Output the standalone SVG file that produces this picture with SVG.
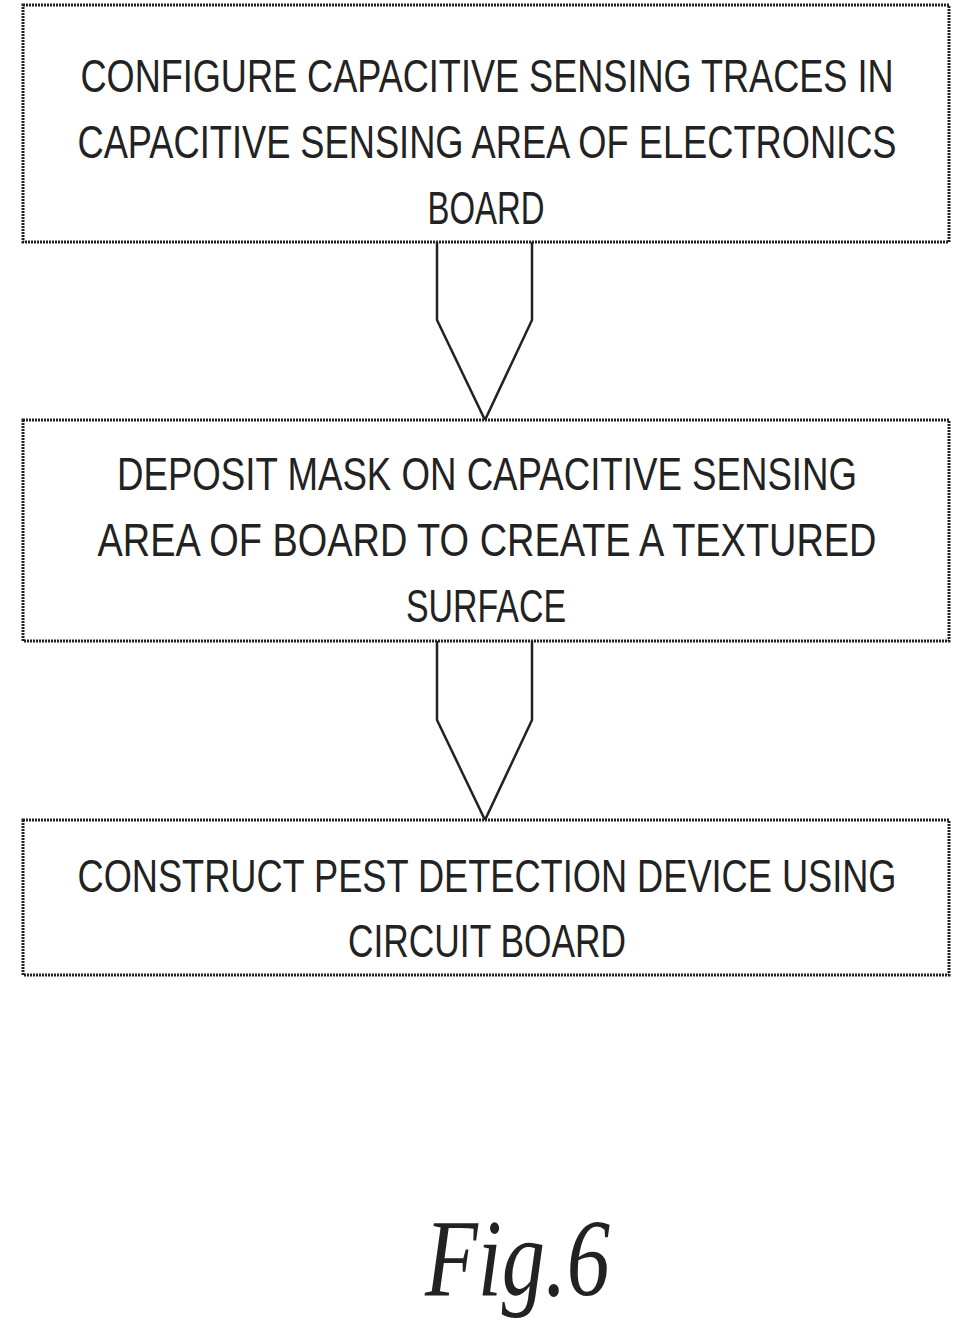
<svg xmlns="http://www.w3.org/2000/svg" width="973" height="1341" viewBox="0 0 973 1341">
<style>
.box{fill:#fff;stroke:#222;stroke-width:3;stroke-dasharray:2 1}
.arr{fill:#fff;stroke:#222;stroke-width:2.5}
.t{font-family:"Liberation Sans",sans-serif;font-size:46px;fill:#222;text-anchor:middle;font-weight:normal}
.fig{font-family:"Liberation Serif",serif;font-style:italic;font-size:110px;fill:#222}
</style>
<rect width="973" height="1341" fill="#fff"/>
<g id="connectors">
<path class="arr" d="M437,242 V320 L485,420 L532,320 V242"/>
<path class="arr" d="M437,641 V720 L485,820 L532,720 V641"/>
</g>
<g id="n1">
<rect class="box" x="23" y="5" width="926" height="237"/>
<text class="t" x="487" y="92" textLength="813" lengthAdjust="spacingAndGlyphs">CONFIGURE CAPACITIVE SENSING TRACES IN</text>
<text class="t" x="487" y="158" textLength="819" lengthAdjust="spacingAndGlyphs">CAPACITIVE SENSING AREA OF ELECTRONICS</text>
<text class="t" x="486" y="224" textLength="117" lengthAdjust="spacingAndGlyphs">BOARD</text>
</g>
<g id="n2">
<rect class="box" x="23" y="420" width="926" height="221"/>
<text class="t" x="487" y="490" textLength="740" lengthAdjust="spacingAndGlyphs">DEPOSIT MASK ON CAPACITIVE SENSING</text>
<text class="t" x="487" y="556" textLength="779" lengthAdjust="spacingAndGlyphs">AREA OF BOARD TO CREATE A TEXTURED</text>
<text class="t" x="486" y="622" textLength="160" lengthAdjust="spacingAndGlyphs">SURFACE</text>
</g>
<g id="n3">
<rect class="box" x="23" y="820" width="926" height="155"/>
<text class="t" x="487" y="892" textLength="819" lengthAdjust="spacingAndGlyphs">CONSTRUCT PEST DETECTION DEVICE USING</text>
<text class="t" x="487" y="957" textLength="278" lengthAdjust="spacingAndGlyphs">CIRCUIT BOARD</text>
</g>
<text class="fig" x="425" y="1295" textLength="185" lengthAdjust="spacingAndGlyphs">Fig.6</text>
</svg>
